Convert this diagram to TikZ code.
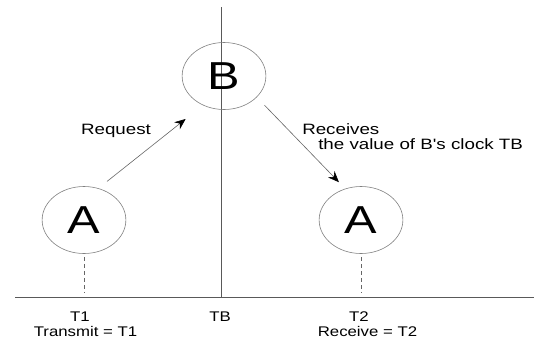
\documentclass[tikz,border=0pt]{standalone}
\usepackage{fontspec}
\setmainfont{Liberation Sans}
\usetikzlibrary{arrows.meta}

\tikzset{
  proc/.style={circle, draw=black!50, line width=0.6pt, minimum size=67pt, inner sep=0pt,
    xscale=1.25, transform shape, font=\fontsize{39}{39}\selectfont},
  lbl/.style={inner sep=0pt, xscale=1.25, transform shape, font=\fontsize{15}{17}\selectfont},
  tick/.style={inner sep=0pt, xscale=1.2, transform shape, font=\fontsize{14}{16}\selectfont},
  msg/.style={draw=black!60, line width=0.6pt, -{Stealth[black, length=11pt, width=9pt]}},
  axis/.style={draw=black!65, line width=0.8pt}
}

\begin{document}
\begin{tikzpicture}[x=1pt, y=-1pt]
\useasboundingbox (0,0) rectangle (534,343);
% time axis and the line of B
\coordinate (L) at (15,297);
\coordinate (R) at (534,297);
\coordinate (Top) at (221,7);
\draw[axis] (L) -- (R);
\draw[axis] (Top) -- (Top |- L);
\node[proc] (B) at (224,76) {B};
\node[proc] (A1) at (84,220) {A};
\node[proc] (A2) at (361,220) {A};
\foreach \n in {A1,A2} {
 \draw[black!60, line width=0.6pt, dash pattern=on 4pt off 3pt, shorten <=3pt, shorten >=5pt] (\n.south) -- (\n.south |- L);
}
% messages
\draw[msg, shorten <=11pt, shorten >=22pt] (A1.70) -- (B.240);
\draw[msg, shorten <=11pt, shorten >=9pt] (B.321) -- (A2.112);
\node[lbl, anchor=base] (req) at (116,134) {Request};
\node[lbl, anchor=base west] (rcv) at (302,134) {Receives};
\node[lbl, anchor=base west] (val) at (318,149) {the value of B\textquotesingle s clock TB};
% times
\node[tick, anchor=base] (T1) at (80,321) {T1};
\node[tick, anchor=base] (tx) at (85.5,336) {Transmit = T1};
\node[tick, anchor=base] (TB) at (220,321) {TB};
\node[tick, anchor=base] (T2) at (359,321) {T2};
\node[tick, anchor=base] (rx) at (367.5,336) {Receive = T2};
\end{tikzpicture}
\end{document}
